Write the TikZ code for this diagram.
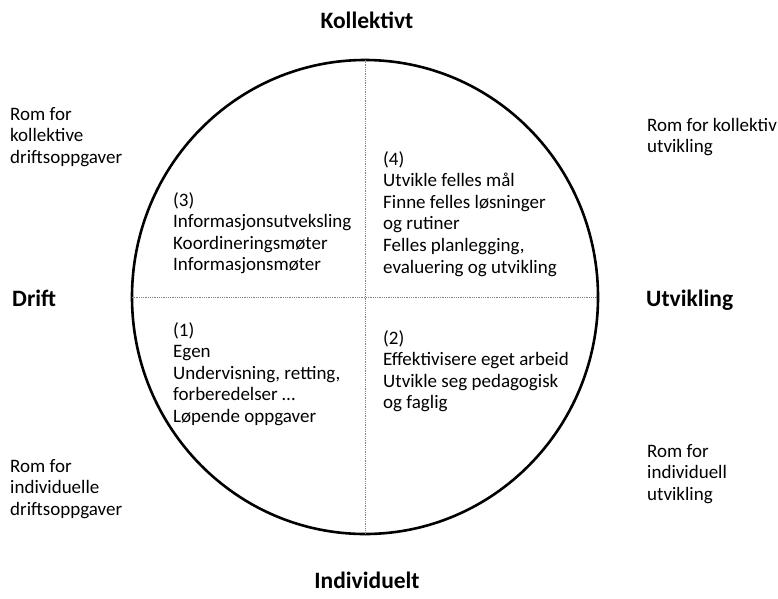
\documentclass[tikz,border=0pt]{standalone}
\usepackage{fontspec}
\setmainfont{Carlito}
\usetikzlibrary{positioning}

\begin{document}
\begin{tikzpicture}[x=1pt,y=-1pt,
  txt/.style={font=\fontsize{19}{21.6}\selectfont,align=left,anchor=north west,inner sep=0pt},
  head/.style={font=\bfseries\fontsize{23.5}{26}\selectfont,inner sep=0pt},
  axis/.style={gray,densely dotted,line width=0.8pt}]
\useasboundingbox (0,0) rectangle (778,598);
\coordinate (c) at (365,297);
\draw[line width=2.6pt] (c) ellipse [x radius=233,y radius=237];
\coordinate (top) at (365,60);
\coordinate (bot) at (365,534);
\coordinate (lft) at (132,297);
\coordinate (rgt) at (598,297);
\draw[axis] (top)--(bot);
\draw[axis] (lft)--(rgt);
% axis labels
\node[head] (kollektivt) at (367,20) {Kollektivt};
\node[head] (individuelt) at (367,580) {Individuelt};
\node[head,anchor=base west] (drift) at (12,306) {Drift};
\node[head,anchor=base west] (utvikling) at (646,306) {Utvikling};
% quadrants
\node[txt] (q3) at (173,192) {(3)\\Informasjonsutveksling\\Koordineringsmøter\\Informasjonsmøter};
\node[txt] (q4) at (383,151) {(4)\\Utvikle felles mål\\Finne felles løsninger\\og rutiner\\Felles planlegging,\\evaluering og utvikling};
\node[txt] (q1) at (173,322) {(1)\\Egen\\Undervisning, retting,\\forberedelser …\\Løpende oppgaver};
\node[txt] (q2) at (383,330) {(2)\\Effektivisere eget arbeid\\Utvikle seg pedagogisk\\og faglig};
% rooms
\node[txt] (romkd) at (10,107) {Rom for\\kollektive\\driftsoppgaver};
\node[txt] (romku) at (647,118) {Rom for kollektiv\\utvikling};
\node[txt] (romid) at (10,459) {Rom for\\individuelle\\driftsoppgaver};
\node[txt] (romiu) at (647,444) {Rom for\\individuell\\utvikling};
\end{tikzpicture}
\end{document}
